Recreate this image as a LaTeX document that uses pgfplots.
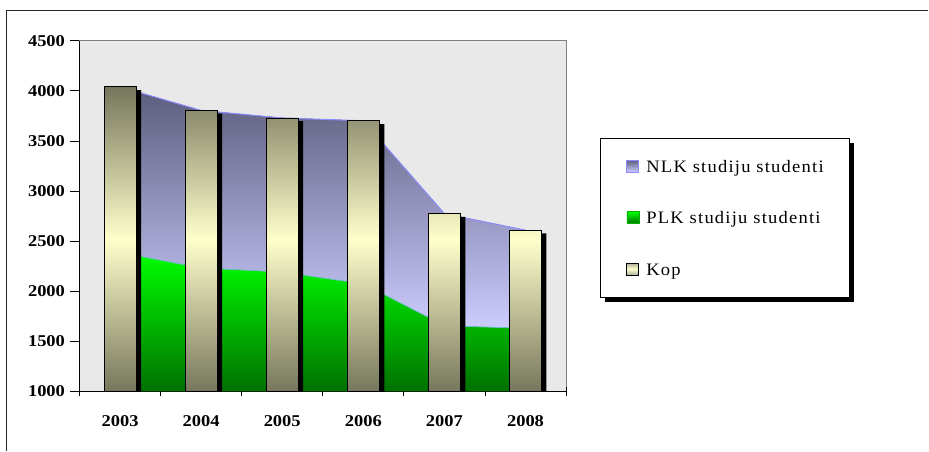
\documentclass[border=0pt]{standalone}
\usepackage{fontspec}
\setmainfont{Liberation Serif}
\newfontfamily\tickfont[FakeStretch=1.12]{Liberation Serif}
\newfontfamily\legfont[FakeStretch=1.06,LetterSpace=7]{Liberation Serif}
\usepackage{pgfplots}
\usepackage{pgfplotstable}
\pgfplotsset{compat=1.18}
\usepgfplotslibrary{fillbetween}

\definecolor{bggray}{RGB}{233,233,233}
\definecolor{nlktop}{RGB}{92,92,124}
\definecolor{nlkbot}{RGB}{204,204,255}
\definecolor{nlkline}{RGB}{140,140,255}
\definecolor{plktop}{RGB}{0,255,0}
\definecolor{plkbot}{RGB}{0,112,0}
\definecolor{plkline}{RGB}{110,190,200}
\definecolor{olivebar}{RGB}{118,118,92}
\definecolor{creambar}{RGB}{255,255,204}

% values; axis baseline is 1000 (subtracted when plotting)
\pgfplotstableread{
x kop plk
0 4040 2387
1 3805 2233
2 3730 2192
3 3702 2075
4 2775 1657
5 2610 1630
}\data

\begin{document}
\begin{tikzpicture}[x=1pt,y=1pt]
\path (0,0) rectangle (929,451);
\draw[line width=1.6pt, black!85] (6.5,0) -- (6.5,440.5) -- (929,440.5);
% legend shadow
\fill[black] (606,149) rectangle (855,308);
\begin{axis}[
  at={(98,59)}, anchor=south west,
  scale only axis, width=487pt, height=351pt,
  xmin=-0.5, xmax=5.5, ymin=0, ymax=3500,
  ytick={0,500,1000,1500,2000,2500,3000,3500},
  yticklabels={1000,1500,2000,2500,3000,3500,4000,4500},
  xtick={-0.5,0.5,1.5,2.5,3.5,4.5,5.5},
  xticklabels={2003,2004,2005,2006,2007,2008},
  x tick label as interval,
  xtick align=center, ytick align=outside,
  major tick length=9pt,
  tick style={black, line width=0.8pt},
  axis x line*=bottom, axis y line*=left,
  axis line style={-, black, line width=1pt},
  axis background/.style={fill=bggray, draw=gray, line width=0.8pt},
  ticklabel style={font=\tickfont\bfseries\fontsize{16.5}{18}\selectfont},
  xticklabel style={yshift=-16pt},
  yticklabel style={xshift=-2pt},
  legend style={at={(axis description cs:1.0698,0.7236)}, anchor=north west,
    draw=black, line width=0.8pt, fill=white,
    inner xsep=26pt, inner ysep=21pt, row sep=37.5pt,
    font=\legfont\fontsize{17.5}{20}\selectfont,
    nodes={inner sep=0pt, text height=13pt, text depth=1pt},
    /tikz/every odd column/.append style={column sep=7pt}},
  legend cell align=left,
]
\addplot[forget plot, draw=none, top color=plktop, bottom color=plkbot] table[x=x,y expr=\thisrow{plk}-1000]{\data} \closedcycle;
\addplot[forget plot, name path=plk, draw=plkline, line width=0.8pt] table[x=x,y expr=\thisrow{plk}-1000]{\data};
\addplot[forget plot, name path=tot, draw=nlkline, line width=1pt] table[x=x,y expr=\thisrow{kop}-1000]{\data};
\addplot[forget plot, top color=nlktop, bottom color=nlkbot, draw=none] fill between[of=tot and plk];
% bar shadows
\addplot[forget plot, ybar, bar width=32pt, bar shift=5pt, fill=black, draw=none, yshift=-3.3pt]
  table[x=x,y expr=\thisrow{kop}-1000]{\data};
% bars
\addplot[forget plot, ybar, bar width=32pt, bar shift=0pt, draw=black, line width=0.8pt,
  top color=olivebar, bottom color=olivebar, middle color=creambar]
  table[x=x,y expr=\thisrow{kop}-1000]{\data};

\addlegendimage{legend image code/.code={\draw[top color=nlktop,bottom color=nlkbot,draw=nlkline,line width=0.8pt] (0pt,-6pt) rectangle (12pt,6pt);}}
\addlegendentry{NLK studiju studenti}
\addlegendimage{legend image code/.code={\draw[top color=plktop,bottom color=plkbot,draw=plktop!70!black,line width=0.5pt] (0pt,-6pt) rectangle (12pt,6pt);}}
\addlegendentry{PLK studiju studenti}
\addlegendimage{legend image code/.code={\draw[top color=olivebar!60,bottom color=olivebar!60,middle color=creambar,draw=black,line width=1pt] (0pt,-6pt) rectangle (12pt,6pt);}}
\addlegendentry{Kop}
\end{axis}
\end{tikzpicture}
\end{document}
